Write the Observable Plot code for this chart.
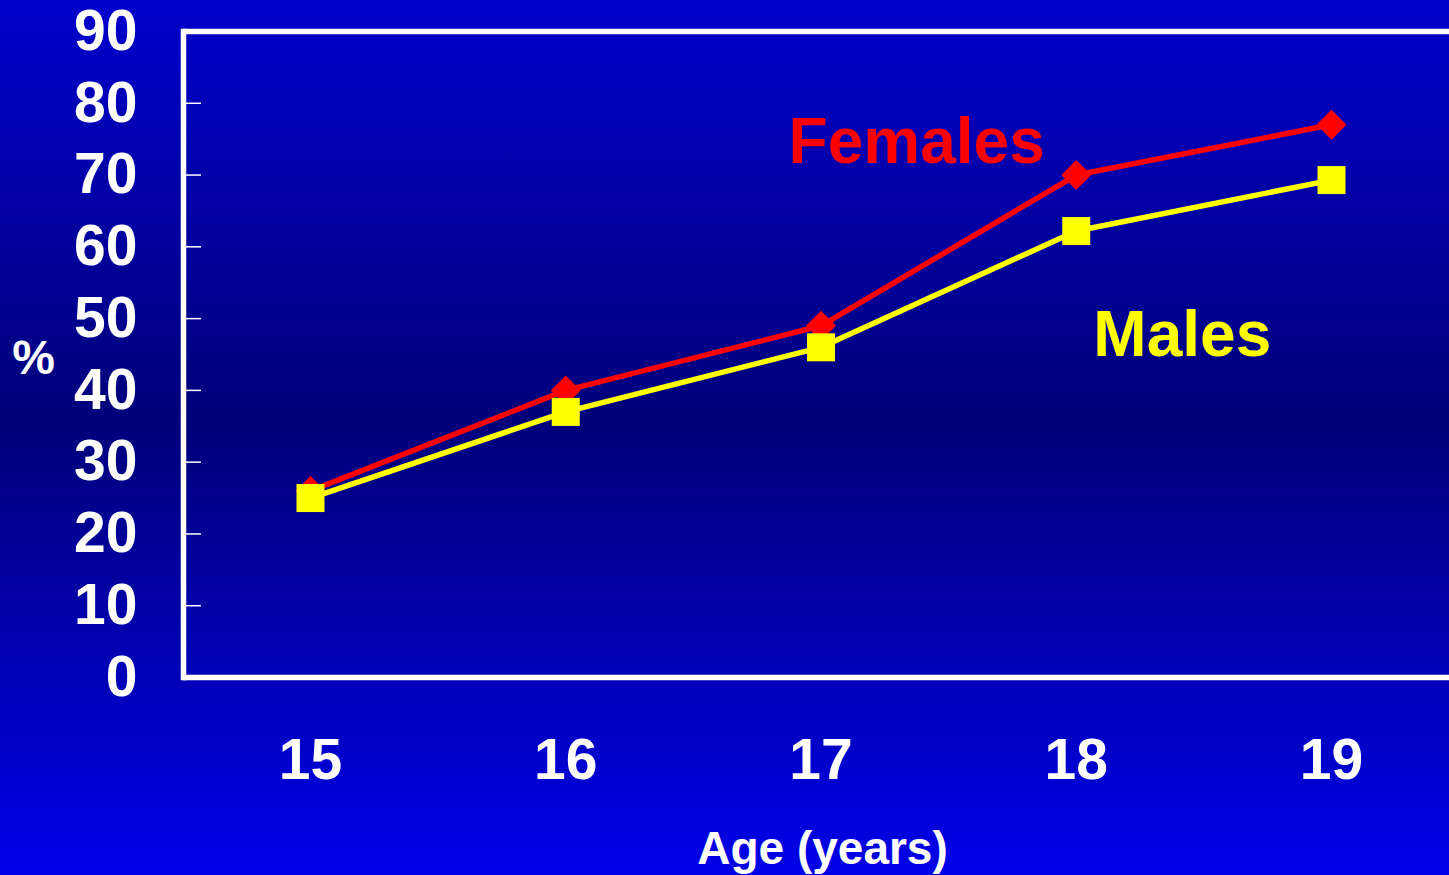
<!DOCTYPE html>
<html><head><meta charset="utf-8">
<script src="https://cdn.jsdelivr.net/npm/d3@7"></script>
<script src="https://cdn.jsdelivr.net/npm/@observablehq/plot@0.6"></script>
<style>
html,body{margin:0;padding:0;}
body{width:1449px;height:875px;overflow:hidden;background:linear-gradient(to bottom,#0000cc 0%,#00007a 48%,#0000e8 100%);font-family:"Liberation Sans",Arial,sans-serif;}
</style></head><body><div id="chart"></div>
<script>
const ages = [15, 16, 17, 18, 19];
const females = [26, 40, 49, 70, 77];
const males = [25, 37, 46, 62.2, 69.3];
const yTicks = [0, 10, 20, 30, 40, 50, 60, 70, 80, 90];
const seriesNames = ["Females", "Males"];
const xLabel = "Age (years)";
const yLabel = "%";

const fData = ages.map((a, i) => ({age: a, value: females[i]}));
const mData = ages.map((a, i) => ({age: a, value: males[i]}));

const W = 1449, H = 875, ML = 183, MT = 31, MB = 198;
const font = "'Liberation Sans', Arial, Helvetica, sans-serif";

const chart = Plot.plot({
  width: W, height: H,
  marginLeft: ML, marginRight: 0, marginTop: MT, marginBottom: MB,
  style: {background: "transparent", color: "white", fontFamily: font, overflow: "visible"},
  x: {domain: [15, 19], range: [310, 1331]},
  y: {domain: [0, 90]},
  marks: [
    Plot.axisY(yTicks, {tickSize: 0, tickPadding: 46, fontSize: 57, fontWeight: "bold", fill: "white", label: null}),
    Plot.axisX(ages, {tickSize: 0, tickPadding: 61, fontSize: 57, fontWeight: "bold", fill: "white", label: null, tickFormat: d => String(d)}),
    Plot.ruleY(yTicks.slice(1, -1), {stroke: "white", strokeWidth: 1.5, insetLeft: 3, insetRight: W - ML - 18}),
    Plot.ruleY([0, 90], {stroke: "white", strokeWidth: 5.5}),
    Plot.frame({anchor: "left", stroke: "white", strokeWidth: 5.5}),
    Plot.line(fData, {x: "age", y: "value", stroke: "#ff0000", strokeWidth: 5.5}),
    Plot.dot(fData, {x: "age", y: "value", symbol: "diamond2", r: 13.5, fill: "#ff0000", stroke: "none"}),
    Plot.line(mData, {x: "age", y: "value", stroke: "#ffff00", strokeWidth: 5.5}),
    Plot.dot(mData, {x: "age", y: "value", symbol: "square", r: 15.8, fill: "#ffff00", stroke: "none"}),
    Plot.text([seriesNames[0]], {x: 16.873, y: 71.7, text: d => d, textAnchor: "start", lineAnchor: "bottom", fill: "#ff0000", fontSize: 64, fontWeight: "bold"}),
    Plot.text([seriesNames[1]], {x: 18.067, y: 44.86, text: d => d, textAnchor: "start", lineAnchor: "bottom", fill: "#ffff00", fontSize: 64, fontWeight: "bold"}),
    Plot.text([yLabel], {frameAnchor: "left", y: () => 44.4, text: d => d, dx: -150, textAnchor: "middle", fill: "white", fontSize: 48, fontWeight: "bold"}),
    Plot.text([xLabel], {frameAnchor: "bottom", x: () => 17, text: d => d, dx: 1.5, dy: 186, textAnchor: "middle", lineAnchor: "bottom", fill: "white", fontSize: 46, fontWeight: "bold"})
  ]
});
document.getElementById("chart").appendChild(chart);
</script>
</body></html>
